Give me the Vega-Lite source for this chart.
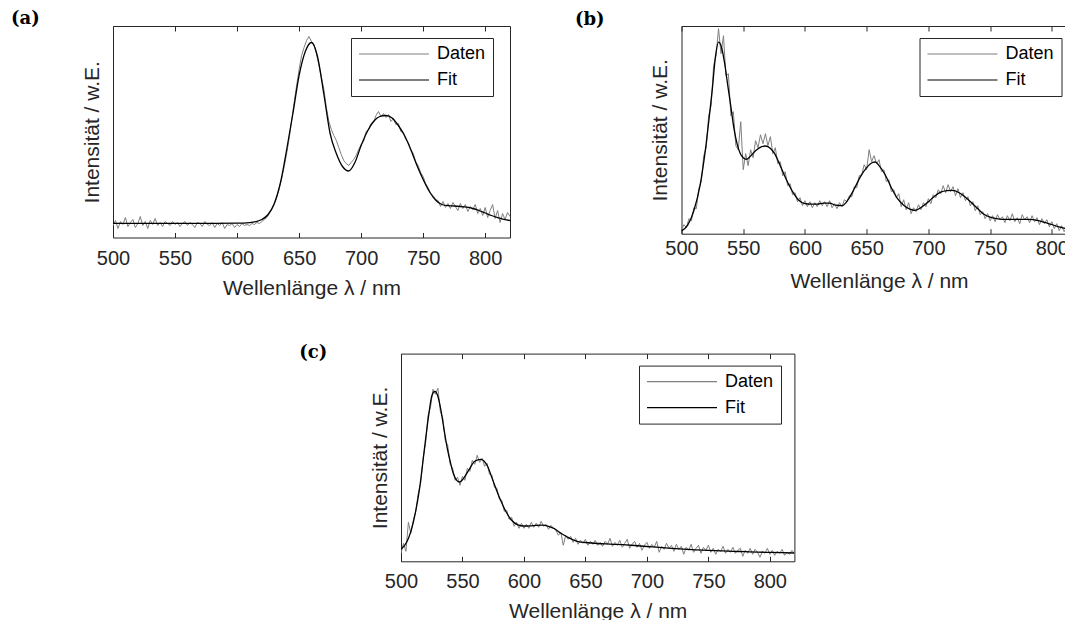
{
"$schema": "https://vega.github.io/schema/vega-lite/v6.json",
"background": "white",
"padding": {"left": 10, "top": 9, "right": 0, "bottom": 0},
"config": {
  "font": "Liberation Sans",
  "view": {"stroke": "#262626", "strokeWidth": 1},
  "axis": {"labelFont": "Liberation Sans", "titleFont": "Liberation Sans", "labelColor": "#262626", "titleColor": "#262626", "tickColor": "#262626", "domainColor": "#262626", "grid": false, "titleFontWeight": "normal", "labelFontSize": 20, "titleFontSize": 21},
  "title": {"anchor": "start", "frame": "group", "baseline": "middle", "font": "DejaVu Serif", "fontWeight": "bold", "fontSize": 18, "color": "#000000"},
  "legend": {"title": null, "orient": "none", "legendX": 238, "legendY": 12, "symbolType": "stroke", "symbolSize": 4900, "symbolStrokeWidth": 1.2, "clipHeight": 18, "labelFontSize": 18, "labelFont": "Liberation Sans", "labelColor": "#000000", "labelOffset": 7, "padding": 7, "rowPadding": 8, "strokeColor": "#262626", "fillColor": "white", "cornerRadius": 0, "labelBaseline": "middle"}
},
"datasets": {
"a_d": [{"nm":500,"I":12},{"nm":502,"I":17},{"nm":504,"I":9},{"nm":506,"I":16},{"nm":508,"I":13},{"nm":510,"I":20},{"nm":512,"I":11},{"nm":514,"I":15},{"nm":516,"I":18},{"nm":518,"I":10},{"nm":520,"I":14},{"nm":522,"I":21},{"nm":524,"I":12},{"nm":526,"I":16},{"nm":528,"I":9},{"nm":530,"I":17},{"nm":532,"I":13},{"nm":534,"I":19},{"nm":536,"I":12},{"nm":538,"I":15},{"nm":540,"I":11},{"nm":542,"I":16},{"nm":544,"I":14},{"nm":546,"I":12},{"nm":548,"I":16},{"nm":550,"I":13},{"nm":552,"I":15},{"nm":554,"I":11},{"nm":556,"I":14},{"nm":558,"I":16},{"nm":560,"I":12},{"nm":562,"I":15},{"nm":564,"I":13},{"nm":566,"I":10},{"nm":568,"I":15},{"nm":570,"I":14},{"nm":572,"I":11},{"nm":574,"I":16},{"nm":576,"I":13},{"nm":578,"I":12},{"nm":580,"I":15},{"nm":582,"I":10},{"nm":584,"I":14},{"nm":586,"I":12},{"nm":588,"I":15},{"nm":590,"I":9},{"nm":592,"I":13},{"nm":594,"I":12},{"nm":596,"I":14},{"nm":598,"I":10},{"nm":600,"I":13},{"nm":602,"I":11},{"nm":604,"I":14},{"nm":606,"I":12},{"nm":608,"I":13},{"nm":610,"I":12},{"nm":612,"I":14},{"nm":614,"I":13},{"nm":616,"I":15},{"nm":618,"I":14},{"nm":620,"I":16},{"nm":622,"I":18},{"nm":624,"I":20},{"nm":626,"I":24},{"nm":628,"I":28},{"nm":630,"I":33},{"nm":632,"I":40},{"nm":634,"I":49},{"nm":636,"I":59},{"nm":638,"I":71},{"nm":640,"I":84},{"nm":642,"I":99},{"nm":644,"I":117},{"nm":646,"I":135},{"nm":648,"I":152},{"nm":650,"I":168},{"nm":652,"I":182},{"nm":654,"I":190},{"nm":656,"I":197},{"nm":658,"I":201},{"nm":660,"I":196},{"nm":662,"I":193},{"nm":664,"I":184},{"nm":666,"I":172},{"nm":668,"I":160},{"nm":670,"I":148},{"nm":672,"I":130},{"nm":674,"I":116},{"nm":676,"I":108},{"nm":678,"I":102},{"nm":680,"I":97},{"nm":682,"I":90},{"nm":684,"I":83},{"nm":686,"I":77},{"nm":688,"I":74},{"nm":690,"I":72},{"nm":692,"I":75},{"nm":694,"I":78},{"nm":696,"I":82},{"nm":698,"I":88},{"nm":700,"I":93},{"nm":702,"I":96},{"nm":704,"I":106},{"nm":706,"I":108},{"nm":708,"I":114},{"nm":710,"I":115},{"nm":712,"I":122},{"nm":714,"I":126},{"nm":716,"I":121},{"nm":718,"I":124},{"nm":720,"I":120},{"nm":722,"I":123},{"nm":724,"I":116},{"nm":726,"I":119},{"nm":728,"I":113},{"nm":730,"I":114},{"nm":732,"I":106},{"nm":734,"I":105},{"nm":736,"I":98},{"nm":738,"I":95},{"nm":740,"I":88},{"nm":742,"I":84},{"nm":744,"I":76},{"nm":746,"I":72},{"nm":748,"I":65},{"nm":750,"I":61},{"nm":752,"I":54},{"nm":754,"I":50},{"nm":756,"I":44},{"nm":758,"I":42},{"nm":760,"I":38},{"nm":762,"I":37},{"nm":764,"I":31},{"nm":766,"I":36},{"nm":768,"I":30},{"nm":770,"I":34},{"nm":772,"I":29},{"nm":774,"I":35},{"nm":776,"I":31},{"nm":778,"I":27},{"nm":780,"I":34},{"nm":782,"I":29},{"nm":784,"I":33},{"nm":786,"I":26},{"nm":788,"I":31},{"nm":790,"I":28},{"nm":792,"I":33},{"nm":794,"I":24},{"nm":796,"I":29},{"nm":798,"I":22},{"nm":800,"I":30},{"nm":802,"I":20},{"nm":804,"I":27},{"nm":806,"I":33},{"nm":808,"I":19},{"nm":810,"I":27},{"nm":812,"I":15},{"nm":814,"I":24},{"nm":816,"I":18},{"nm":818,"I":25},{"nm":820,"I":21}],
"a_f": [{"nm":500,"I":14.2},{"nm":520,"I":14.2},{"nm":540,"I":14.2},{"nm":560,"I":14.2},{"nm":580,"I":14.2},{"nm":600,"I":14.3},{"nm":605,"I":14.4},{"nm":610,"I":14.8},{"nm":615,"I":15.8},{"nm":620,"I":18},{"nm":625,"I":23},{"nm":630,"I":34},{"nm":635,"I":55},{"nm":640,"I":88},{"nm":645,"I":124},{"nm":650,"I":162},{"nm":655,"I":186},{"nm":660,"I":195},{"nm":665,"I":180},{"nm":670,"I":143},{"nm":675,"I":104},{"nm":680,"I":84},{"nm":685,"I":71},{"nm":690,"I":66.5},{"nm":695,"I":75},{"nm":700,"I":92},{"nm":705,"I":106},{"nm":710,"I":116},{"nm":715,"I":121},{"nm":720,"I":122},{"nm":725,"I":119.5},{"nm":730,"I":112},{"nm":735,"I":102},{"nm":740,"I":88},{"nm":745,"I":72},{"nm":750,"I":58},{"nm":755,"I":46},{"nm":760,"I":37.5},{"nm":765,"I":33},{"nm":770,"I":31.8},{"nm":775,"I":31.5},{"nm":780,"I":31},{"nm":785,"I":30.3},{"nm":790,"I":29},{"nm":795,"I":27},{"nm":800,"I":24.5},{"nm":805,"I":22},{"nm":810,"I":19.8},{"nm":815,"I":18.2},{"nm":820,"I":17}],
"b_d": [{"nm":500,"I":4},{"nm":502,"I":9},{"nm":504,"I":6},{"nm":506,"I":15},{"nm":508,"I":13},{"nm":510,"I":26},{"nm":512,"I":25},{"nm":514,"I":45},{"nm":516,"I":52},{"nm":518,"I":78},{"nm":520,"I":86},{"nm":522,"I":118},{"nm":524,"I":128},{"nm":526,"I":168},{"nm":528,"I":178},{"nm":530,"I":205},{"nm":532,"I":180},{"nm":534,"I":198},{"nm":536,"I":158},{"nm":538,"I":160},{"nm":540,"I":118},{"nm":542,"I":122},{"nm":544,"I":88},{"nm":546,"I":84},{"nm":548,"I":112},{"nm":550,"I":64},{"nm":552,"I":80},{"nm":554,"I":68},{"nm":556,"I":84},{"nm":558,"I":76},{"nm":560,"I":93},{"nm":562,"I":86},{"nm":564,"I":99},{"nm":566,"I":90},{"nm":568,"I":100},{"nm":570,"I":88},{"nm":572,"I":97},{"nm":574,"I":80},{"nm":576,"I":86},{"nm":578,"I":70},{"nm":580,"I":72},{"nm":582,"I":58},{"nm":584,"I":62},{"nm":586,"I":48},{"nm":588,"I":50},{"nm":590,"I":39},{"nm":592,"I":41},{"nm":594,"I":32},{"nm":596,"I":36},{"nm":598,"I":28},{"nm":600,"I":33},{"nm":602,"I":27},{"nm":604,"I":32},{"nm":606,"I":26},{"nm":608,"I":31},{"nm":610,"I":27},{"nm":612,"I":33},{"nm":614,"I":28},{"nm":616,"I":32},{"nm":618,"I":27},{"nm":620,"I":33},{"nm":622,"I":26},{"nm":624,"I":30},{"nm":626,"I":25},{"nm":628,"I":31},{"nm":630,"I":27},{"nm":632,"I":34},{"nm":634,"I":32},{"nm":636,"I":38},{"nm":638,"I":37},{"nm":640,"I":47},{"nm":642,"I":46},{"nm":644,"I":58},{"nm":646,"I":59},{"nm":648,"I":69},{"nm":650,"I":64},{"nm":652,"I":84},{"nm":654,"I":72},{"nm":656,"I":78},{"nm":658,"I":70},{"nm":660,"I":74},{"nm":662,"I":62},{"nm":664,"I":64},{"nm":666,"I":52},{"nm":668,"I":54},{"nm":670,"I":42},{"nm":672,"I":44},{"nm":674,"I":36},{"nm":676,"I":40},{"nm":678,"I":27},{"nm":680,"I":34},{"nm":682,"I":24},{"nm":684,"I":31},{"nm":686,"I":20},{"nm":688,"I":26},{"nm":690,"I":22},{"nm":692,"I":29},{"nm":694,"I":24},{"nm":696,"I":31},{"nm":698,"I":27},{"nm":700,"I":35},{"nm":702,"I":30},{"nm":704,"I":39},{"nm":706,"I":36},{"nm":708,"I":44},{"nm":710,"I":40},{"nm":712,"I":48},{"nm":714,"I":41},{"nm":716,"I":49},{"nm":718,"I":42},{"nm":720,"I":47},{"nm":722,"I":38},{"nm":724,"I":45},{"nm":726,"I":36},{"nm":728,"I":41},{"nm":730,"I":33},{"nm":732,"I":37},{"nm":734,"I":28},{"nm":736,"I":32},{"nm":738,"I":23},{"nm":740,"I":28},{"nm":742,"I":19},{"nm":744,"I":22},{"nm":746,"I":15},{"nm":748,"I":20},{"nm":750,"I":13},{"nm":752,"I":18},{"nm":754,"I":12},{"nm":756,"I":19},{"nm":758,"I":14},{"nm":760,"I":17},{"nm":762,"I":11},{"nm":764,"I":18},{"nm":766,"I":13},{"nm":768,"I":20},{"nm":770,"I":12},{"nm":772,"I":16},{"nm":774,"I":10},{"nm":776,"I":19},{"nm":778,"I":14},{"nm":780,"I":17},{"nm":782,"I":11},{"nm":784,"I":18},{"nm":786,"I":12},{"nm":788,"I":16},{"nm":790,"I":9},{"nm":792,"I":15},{"nm":794,"I":10},{"nm":796,"I":14},{"nm":798,"I":7},{"nm":800,"I":12},{"nm":802,"I":5},{"nm":804,"I":10},{"nm":806,"I":3},{"nm":808,"I":8},{"nm":810,"I":2},{"nm":812,"I":7},{"nm":814,"I":1},{"nm":816,"I":5},{"nm":818,"I":2},{"nm":820,"I":4}],
"b_f": [{"nm":500,"I":2.7},{"nm":505,"I":8.5},{"nm":510,"I":23},{"nm":515,"I":48},{"nm":520,"I":90},{"nm":522.5,"I":117},{"nm":525,"I":145},{"nm":527.5,"I":177},{"nm":530,"I":191.5},{"nm":532.5,"I":186},{"nm":535,"I":170},{"nm":537.5,"I":148},{"nm":540,"I":127},{"nm":542.5,"I":105},{"nm":545,"I":90},{"nm":547.5,"I":80.5},{"nm":550,"I":76},{"nm":552.5,"I":74.4},{"nm":555,"I":76.5},{"nm":560,"I":83},{"nm":565,"I":87},{"nm":568,"I":87.7},{"nm":570,"I":87},{"nm":575,"I":81},{"nm":580,"I":68},{"nm":585,"I":54},{"nm":590,"I":42},{"nm":595,"I":33.5},{"nm":600,"I":30},{"nm":605,"I":29.5},{"nm":610,"I":29.5},{"nm":615,"I":30.5},{"nm":620,"I":30.5},{"nm":625,"I":28.5},{"nm":630,"I":28},{"nm":635,"I":34},{"nm":640,"I":45},{"nm":645,"I":57},{"nm":650,"I":66},{"nm":655,"I":71.3},{"nm":657,"I":71.7},{"nm":660,"I":68},{"nm":665,"I":59},{"nm":670,"I":46},{"nm":675,"I":35},{"nm":680,"I":28.5},{"nm":685,"I":24.5},{"nm":689,"I":23.3},{"nm":695,"I":27},{"nm":700,"I":32},{"nm":705,"I":37.5},{"nm":710,"I":41.5},{"nm":715,"I":43},{"nm":719,"I":43.3},{"nm":725,"I":41},{"nm":730,"I":36.5},{"nm":735,"I":31},{"nm":740,"I":25},{"nm":745,"I":19.5},{"nm":750,"I":16.5},{"nm":755,"I":15},{"nm":760,"I":14.3},{"nm":770,"I":14.3},{"nm":780,"I":14.3},{"nm":785,"I":14},{"nm":790,"I":12.8},{"nm":795,"I":11},{"nm":800,"I":9.2},{"nm":805,"I":7},{"nm":810,"I":5.5},{"nm":815,"I":4.2},{"nm":820,"I":3.2}],
"c_d": [{"nm":500,"I":8},{"nm":502,"I":18},{"nm":504,"I":10},{"nm":506,"I":39},{"nm":508,"I":28},{"nm":510,"I":41},{"nm":512,"I":50},{"nm":514,"I":68},{"nm":516,"I":78},{"nm":518,"I":103},{"nm":520,"I":118},{"nm":522,"I":146},{"nm":524,"I":154},{"nm":526,"I":172},{"nm":528,"I":167},{"nm":530,"I":173},{"nm":532,"I":150},{"nm":534,"I":143},{"nm":536,"I":121},{"nm":538,"I":116},{"nm":540,"I":97},{"nm":542,"I":93},{"nm":544,"I":81},{"nm":546,"I":84},{"nm":548,"I":76},{"nm":550,"I":85},{"nm":552,"I":81},{"nm":554,"I":93},{"nm":556,"I":90},{"nm":558,"I":101},{"nm":560,"I":97},{"nm":562,"I":106},{"nm":564,"I":99},{"nm":566,"I":103},{"nm":568,"I":95},{"nm":570,"I":98},{"nm":572,"I":87},{"nm":574,"I":86},{"nm":576,"I":74},{"nm":578,"I":73},{"nm":580,"I":62},{"nm":582,"I":61},{"nm":584,"I":50},{"nm":586,"I":51},{"nm":588,"I":42},{"nm":590,"I":44},{"nm":592,"I":35},{"nm":594,"I":39},{"nm":596,"I":33},{"nm":598,"I":38},{"nm":600,"I":33},{"nm":602,"I":37},{"nm":604,"I":33},{"nm":606,"I":39},{"nm":608,"I":34},{"nm":610,"I":38},{"nm":612,"I":34},{"nm":614,"I":40},{"nm":616,"I":35},{"nm":618,"I":37},{"nm":620,"I":32},{"nm":622,"I":36},{"nm":624,"I":33},{"nm":626,"I":31},{"nm":628,"I":26},{"nm":630,"I":29},{"nm":632,"I":16},{"nm":634,"I":26},{"nm":636,"I":22},{"nm":638,"I":25},{"nm":640,"I":19},{"nm":642,"I":23},{"nm":644,"I":17},{"nm":646,"I":21},{"nm":648,"I":18},{"nm":650,"I":22},{"nm":652,"I":16},{"nm":654,"I":20},{"nm":656,"I":17},{"nm":658,"I":21},{"nm":660,"I":16},{"nm":662,"I":19},{"nm":664,"I":15},{"nm":666,"I":20},{"nm":668,"I":17},{"nm":670,"I":23},{"nm":672,"I":15},{"nm":674,"I":19},{"nm":676,"I":16},{"nm":678,"I":21},{"nm":680,"I":14},{"nm":682,"I":18},{"nm":684,"I":22},{"nm":686,"I":13},{"nm":688,"I":17},{"nm":690,"I":20},{"nm":692,"I":14},{"nm":694,"I":18},{"nm":696,"I":11},{"nm":698,"I":16},{"nm":700,"I":19},{"nm":702,"I":13},{"nm":704,"I":17},{"nm":706,"I":14},{"nm":708,"I":20},{"nm":710,"I":9},{"nm":712,"I":15},{"nm":714,"I":12},{"nm":716,"I":18},{"nm":718,"I":13},{"nm":720,"I":16},{"nm":722,"I":10},{"nm":724,"I":17},{"nm":726,"I":12},{"nm":728,"I":15},{"nm":730,"I":7},{"nm":732,"I":14},{"nm":734,"I":11},{"nm":736,"I":17},{"nm":738,"I":9},{"nm":740,"I":13},{"nm":742,"I":16},{"nm":744,"I":8},{"nm":746,"I":14},{"nm":748,"I":11},{"nm":750,"I":16},{"nm":752,"I":9},{"nm":754,"I":13},{"nm":756,"I":7},{"nm":758,"I":12},{"nm":760,"I":10},{"nm":762,"I":15},{"nm":764,"I":8},{"nm":766,"I":12},{"nm":768,"I":9},{"nm":770,"I":14},{"nm":772,"I":8},{"nm":774,"I":11},{"nm":776,"I":13},{"nm":778,"I":5},{"nm":780,"I":11},{"nm":782,"I":8},{"nm":784,"I":13},{"nm":786,"I":7},{"nm":788,"I":12},{"nm":790,"I":9},{"nm":792,"I":4},{"nm":794,"I":10},{"nm":796,"I":8},{"nm":798,"I":13},{"nm":800,"I":7},{"nm":802,"I":11},{"nm":804,"I":6},{"nm":806,"I":10},{"nm":808,"I":8},{"nm":810,"I":12},{"nm":812,"I":6},{"nm":814,"I":9},{"nm":816,"I":7},{"nm":818,"I":11},{"nm":820,"I":8}],
"c_f": [{"nm":500,"I":12},{"nm":505,"I":20},{"nm":510,"I":39},{"nm":515,"I":72},{"nm":520,"I":122},{"nm":522.5,"I":146},{"nm":525,"I":165},{"nm":527.5,"I":170},{"nm":530,"I":165},{"nm":532.5,"I":151},{"nm":535,"I":132},{"nm":537.5,"I":114},{"nm":540,"I":100},{"nm":542.5,"I":88},{"nm":545,"I":81.5},{"nm":547.5,"I":79.3},{"nm":550,"I":81.5},{"nm":555,"I":91},{"nm":560,"I":100},{"nm":565,"I":102},{"nm":570,"I":96},{"nm":575,"I":80},{"nm":580,"I":64},{"nm":585,"I":50.5},{"nm":590,"I":41},{"nm":595,"I":36.5},{"nm":600,"I":35.3},{"nm":605,"I":35.5},{"nm":610,"I":36},{"nm":615,"I":36.2},{"nm":620,"I":35},{"nm":625,"I":32.5},{"nm":630,"I":28},{"nm":635,"I":24.5},{"nm":640,"I":21.5},{"nm":645,"I":19.5},{"nm":650,"I":18.8},{"nm":660,"I":17.8},{"nm":670,"I":17.2},{"nm":680,"I":16.6},{"nm":690,"I":15.8},{"nm":700,"I":14.8},{"nm":710,"I":14},{"nm":720,"I":13},{"nm":730,"I":12.2},{"nm":740,"I":11.5},{"nm":750,"I":10.9},{"nm":760,"I":10.4},{"nm":770,"I":10},{"nm":780,"I":9.6},{"nm":790,"I":9.2},{"nm":800,"I":8.9},{"nm":810,"I":8.6},{"nm":820,"I":8.3}]
},
"spacing": 44.6,
"resolve": {"scale": {"color": "independent"}},
"vconcat": [
 {"spacing": 63.5, "resolve": {"scale": {"color": "independent"}}, "hconcat": [
  {"width": 397, "height": 211.5, "title": {"text": "(a)", "dx": -102, "offset": -2},
   "resolve": {"axis": {"x": "independent"}},
   "layer": [
    {"data": {"name": "a_d"}, "mark": {"type": "line", "clip": true, "strokeWidth": 1},
     "encoding": {
      "x": {"field": "nm", "type": "quantitative", "scale": {"domain": [500, 820], "nice": false, "zero": false}, "axis": {"orient": "bottom", "values": [500,550,600,650,700,750,800], "format": "d", "tickSize": -5, "labelPadding": 15.5, "domain": false, "title": "Wellenlänge λ / nm", "titlePadding": 9, "labelOverlap": false, "labelFlush": false}},
      "y": {"field": "I", "type": "quantitative", "scale": {"domain": [0, 211.5], "nice": false}, "axis": {"title": "Intensität / w.E.", "ticks": false, "labels": false, "domain": false, "titlePadding": 11}},
      "color": {"datum": "Daten", "type": "nominal", "scale": {"domain": ["Daten", "Fit"], "range": ["#7f7f7f", "#000000"]}}}},
    {"data": {"name": "a_f"}, "mark": {"type": "line", "clip": true, "strokeWidth": 1.3, "interpolate": "monotone"},
     "encoding": {
      "x": {"field": "nm", "type": "quantitative", "scale": {"domain": [500, 820], "nice": false, "zero": false}, "axis": {"orient": "top", "values": [500,550,600,650,700,750,800], "labels": false, "tickSize": -5, "domain": false, "title": null, "minExtent": 0, "maxExtent": 0}},
      "y": {"field": "I", "type": "quantitative", "scale": {"domain": [0, 211.5], "nice": false}, "axis": {"title": "Intensität / w.E.", "ticks": false, "labels": false, "domain": false, "titlePadding": 11}},
      "color": {"datum": "Fit", "type": "nominal", "scale": {"domain": ["Daten", "Fit"], "range": ["#7f7f7f", "#000000"]}}}}
   ]},
  {"width": 395, "height": 207.7, "title": {"text": "(b)", "dx": -106.5, "offset": -3.7},
   "resolve": {"axis": {"x": "independent"}},
   "layer": [
    {"data": {"name": "b_d"}, "mark": {"type": "line", "clip": true, "strokeWidth": 1},
     "encoding": {
      "x": {"field": "nm", "type": "quantitative", "scale": {"domain": [500, 820], "nice": false, "zero": false}, "axis": {"orient": "bottom", "values": [500,550,600,650,700,750,800], "format": "d", "tickSize": -5, "labelPadding": 10, "domain": false, "title": "Wellenlänge λ / nm", "titlePadding": 12, "labelOverlap": false, "labelFlush": false}},
      "y": {"field": "I", "type": "quantitative", "scale": {"domain": [0, 207.7], "nice": false}, "axis": {"title": "Intensität / w.E.", "ticks": false, "labels": false, "domain": false, "titlePadding": 11}},
      "color": {"datum": "Daten", "type": "nominal", "scale": {"domain": ["Daten", "Fit"], "range": ["#7f7f7f", "#000000"]}}}},
    {"data": {"name": "b_f"}, "mark": {"type": "line", "clip": true, "strokeWidth": 1.3, "interpolate": "monotone"},
     "encoding": {
      "x": {"field": "nm", "type": "quantitative", "scale": {"domain": [500, 820], "nice": false, "zero": false}, "axis": {"orient": "top", "values": [500,550,600,650,700,750,800], "labels": false, "tickSize": -5, "domain": false, "title": null, "minExtent": 0, "maxExtent": 0}},
      "y": {"field": "I", "type": "quantitative", "scale": {"domain": [0, 207.7], "nice": false}, "axis": {"title": "Intensität / w.E.", "ticks": false, "labels": false, "domain": false, "titlePadding": 11}},
      "color": {"datum": "Fit", "type": "nominal", "scale": {"domain": ["Daten", "Fit"], "range": ["#7f7f7f", "#000000"]}}}}
   ]}
 ]},
 {"spacing": 20, "resolve": {"scale": {"color": "independent"}}, "hconcat": [
  {"width": 165, "height": 1, "data": {"values": []}, "mark": {"type": "point", "opacity": 0}, "view": {"stroke": null}},
  {"width": 393.4, "height": 207.7, "title": {"text": "(c)", "dx": -101.7, "offset": -9},
   "resolve": {"axis": {"x": "independent"}},
   "layer": [
    {"data": {"name": "c_d"}, "mark": {"type": "line", "clip": true, "strokeWidth": 1},
     "encoding": {
      "x": {"field": "nm", "type": "quantitative", "scale": {"domain": [500, 820], "nice": false, "zero": false}, "axis": {"orient": "bottom", "values": [500,550,600,650,700,750,800], "format": "d", "tickSize": -5, "labelPadding": 15.5, "domain": false, "title": "Wellenlänge λ / nm", "titlePadding": 9, "labelOverlap": false, "labelFlush": false}},
      "y": {"field": "I", "type": "quantitative", "scale": {"domain": [0, 207.7], "nice": false}, "axis": {"title": "Intensität / w.E.", "ticks": false, "labels": false, "domain": false, "titlePadding": 11}},
      "color": {"datum": "Daten", "type": "nominal", "scale": {"domain": ["Daten", "Fit"], "range": ["#7f7f7f", "#000000"]}}}},
    {"data": {"name": "c_f"}, "mark": {"type": "line", "clip": true, "strokeWidth": 1.3, "interpolate": "monotone"},
     "encoding": {
      "x": {"field": "nm", "type": "quantitative", "scale": {"domain": [500, 820], "nice": false, "zero": false}, "axis": {"orient": "top", "values": [500,550,600,650,700,750,800], "labels": false, "tickSize": -5, "domain": false, "title": null, "minExtent": 0, "maxExtent": 0}},
      "y": {"field": "I", "type": "quantitative", "scale": {"domain": [0, 207.7], "nice": false}, "axis": {"title": "Intensität / w.E.", "ticks": false, "labels": false, "domain": false, "titlePadding": 11}},
      "color": {"datum": "Fit", "type": "nominal", "scale": {"domain": ["Daten", "Fit"], "range": ["#7f7f7f", "#000000"]}}}}
   ]}
 ]}
]
}
